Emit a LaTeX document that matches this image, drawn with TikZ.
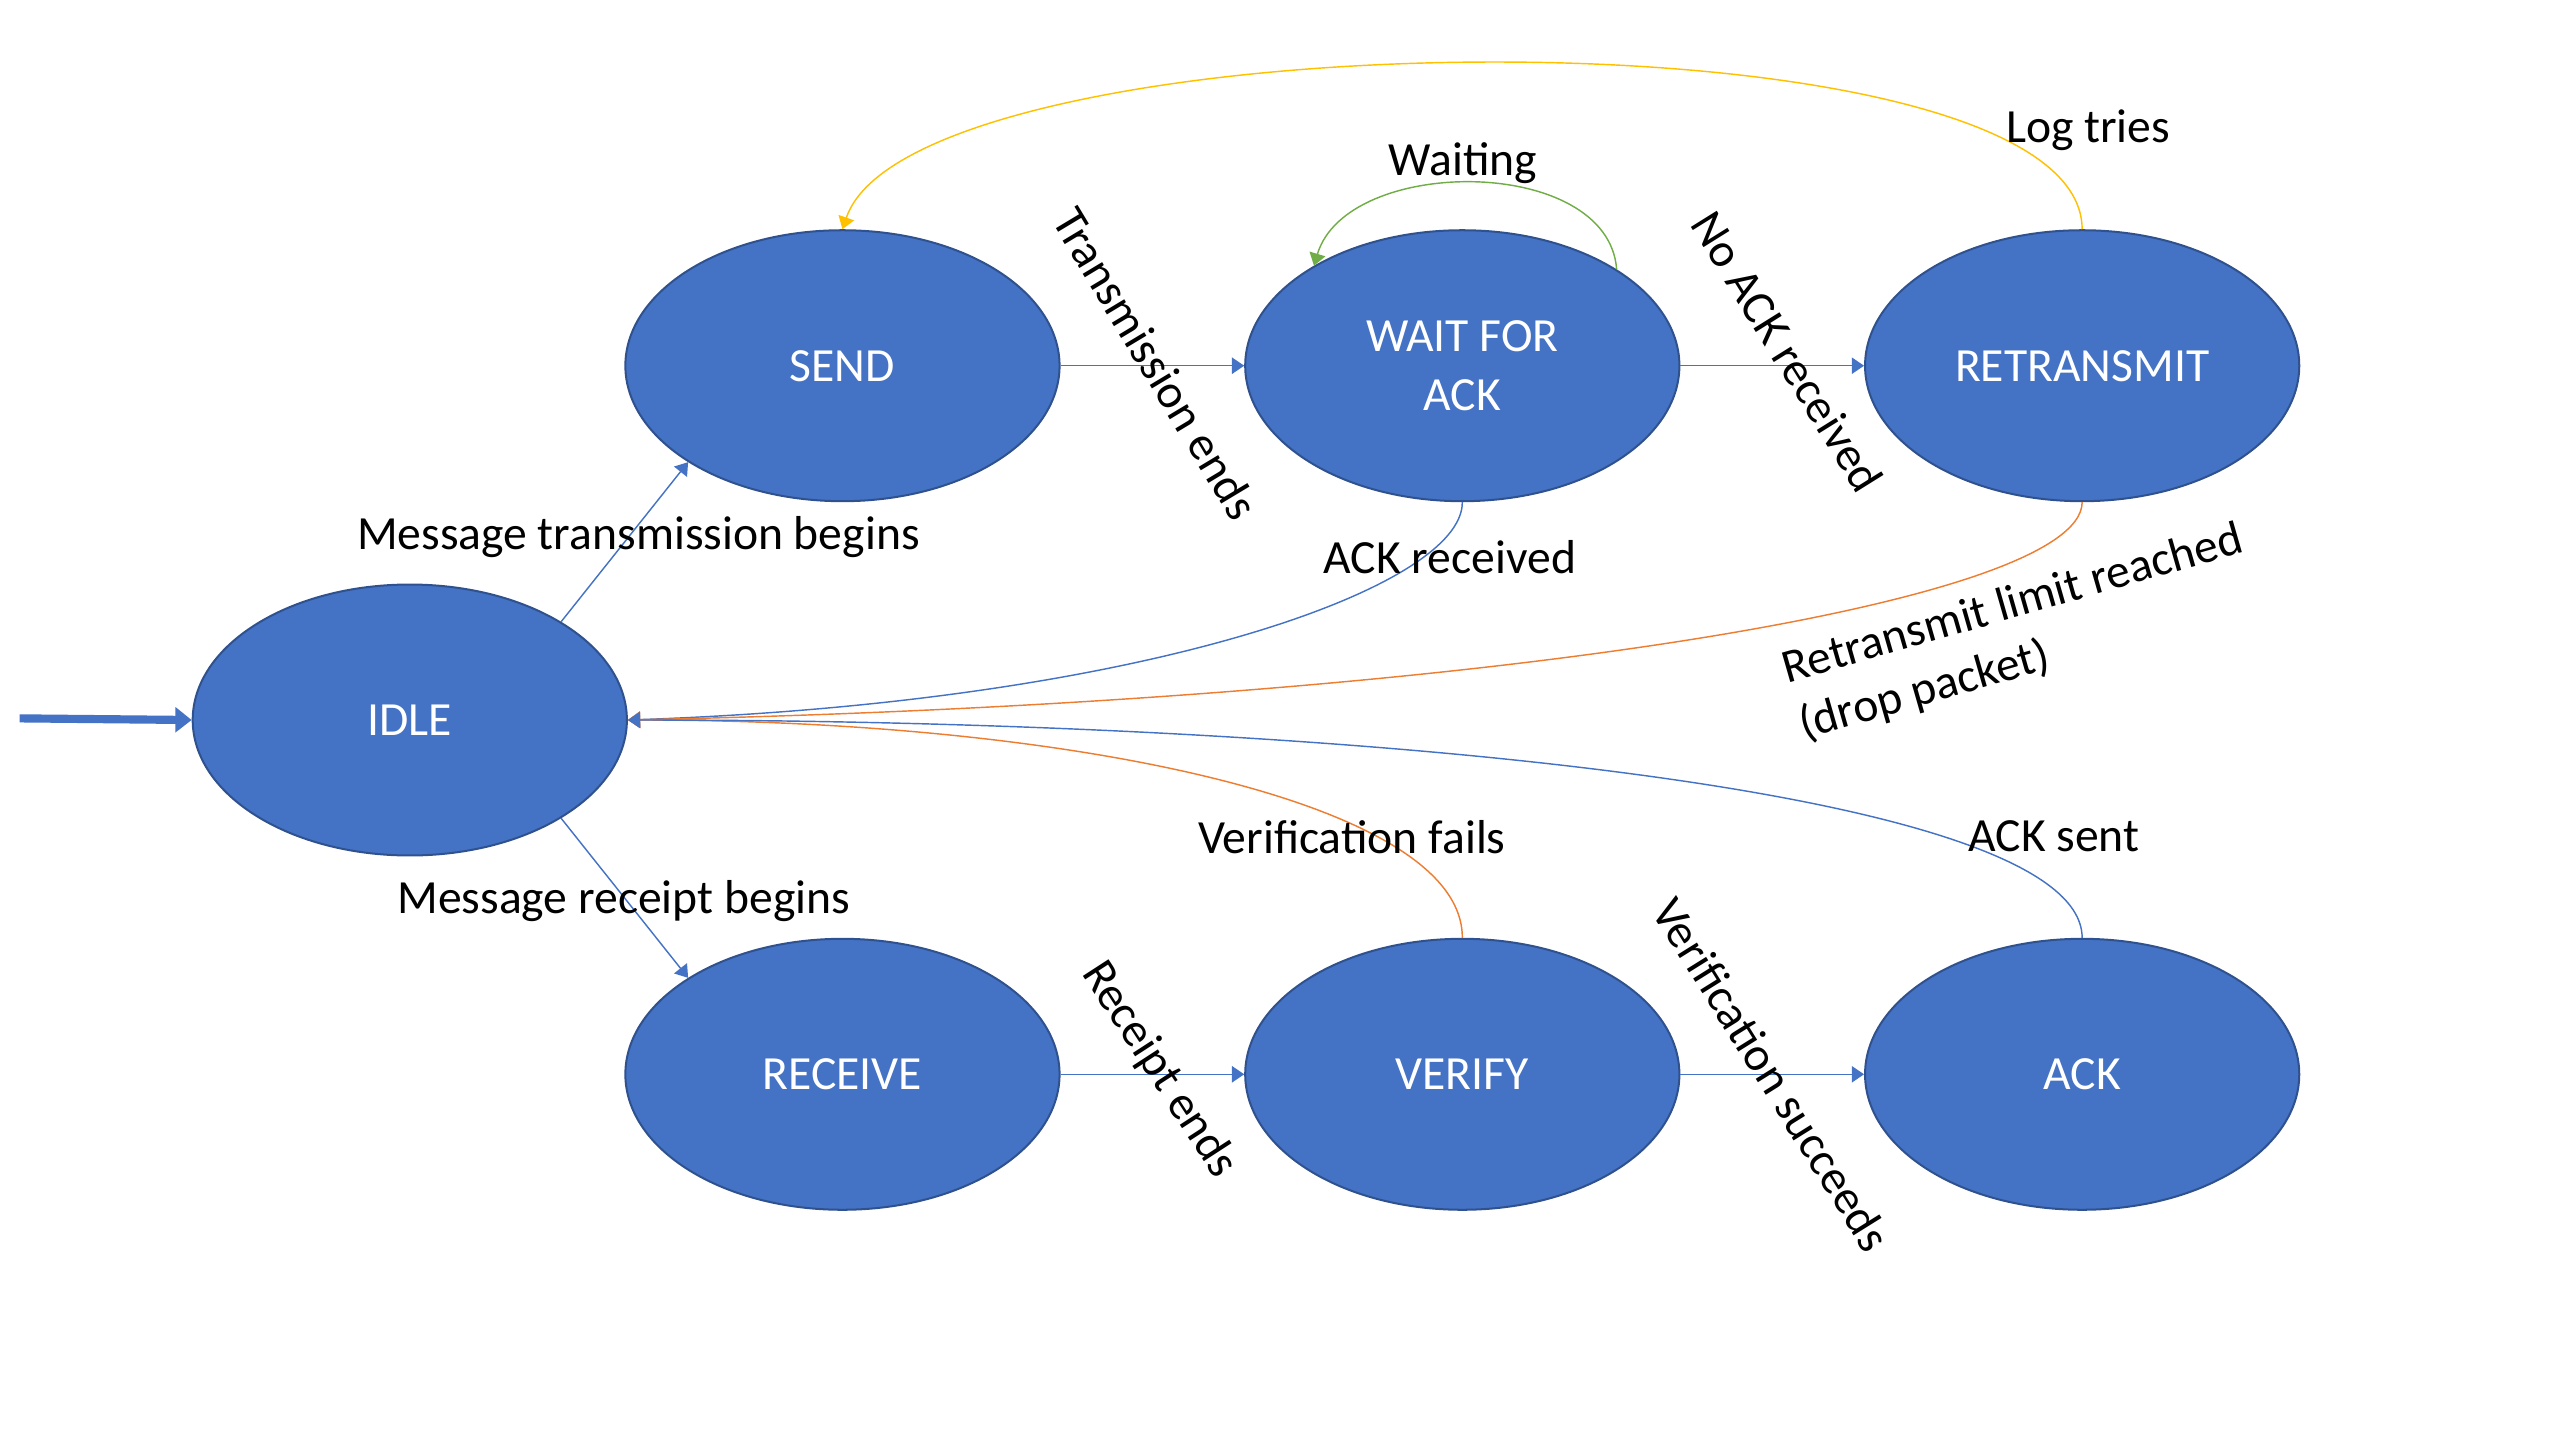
\documentclass[tikz,border=0pt]{standalone}
\usepackage{fontspec}
\setmainfont{Carlito}
\usetikzlibrary{shapes.geometric,arrows.meta,positioning}
\definecolor{stateblue}{HTML}{4472C4}
\definecolor{stateedge}{HTML}{2F528F}
\definecolor{lineorange}{HTML}{ED7D31}
\definecolor{lineyellow}{HTML}{FFC000}
\definecolor{linegreen}{HTML}{70AD47}

\begin{document}
\begin{tikzpicture}[x=0.02cm, y=-0.02cm, node distance=2.25cm,
	font=\fontsize{16.6}{20.5}\selectfont,
	state/.style={ellipse, draw=stateedge, line width=0.7pt, fill=stateblue, text=white, minimum width=5.32cm, minimum height=3.32cm, inner sep=0pt, align=center},
	trans/.style={-{Triangle[length=0.15cm,width=0.2cm]}, line width=0.5pt, stateblue},
	lbl/.style={inner sep=1pt, text=black}]
	\useasboundingbox (0,0) rectangle (1568,882);
	
	% states
	\node[state] (idle) at (251,441) {IDLE};
	\node[state] (send) at (516,224) {SEND};
	\node[state, right=of send] (wait) {WAIT FOR\\ACK};
	\node[state, right=of wait] (retrans) {RETRANSMIT};
	\node[state] (receive) at (516,658) {RECEIVE};
	\node[state, right=of receive] (verify) {VERIFY};
	\node[state, right=of verify] (ack) {ACK};
	
	% entry
	\coordinate (start) at (12,440);
	\draw[stateblue, line width=0.1cm, -{Triangle[length=0.2cm,width=0.3cm]}] (start) -- (idle.west);
	
	% sending side
	\draw[trans] (idle.33) -- (send.212);
	\draw[trans] (send) -- node[lbl, midway, rotate=-59, yshift=0.05cm] {Transmission ends} (wait);
	\draw[trans] (wait) -- node[lbl, midway, rotate=-58, xshift=-0.05cm, yshift=0.25cm] {No ACK received} (retrans);
	\draw[trans, linegreen] (wait.32) .. controls (985,95) and (825,95) .. (wait.146);
	\draw[trans, lineyellow] (retrans.north) .. controls (1275,0) and (560,10) .. (send.north);
	\draw[trans] (wait.south) .. controls (896,360) and (700,430) .. (idle.east);
	\draw[trans, lineorange] (retrans.south) .. controls (1275,370) and (900,430) .. (idle.east);
	
	% receiving side
	\draw[trans] (idle.-33) -- (receive.148);
	\draw[trans] (receive) -- node[lbl, midway, rotate=-57, yshift=0.1cm] {Receipt ends} (verify);
	\draw[trans] (verify) -- node[lbl, midway, rotate=-58] {Verification succeeds} (ack);
	\draw[trans, lineorange] (verify.north) .. controls (896,490) and (650,441) .. (idle.east);
	\draw[trans] (ack.north) .. controls (1275,480) and (800,441) .. (idle.east);
	
	% labels
	\node[lbl] (txbegin) at (391,329) {Message transmission begins};
	\node[lbl] (rxbegin) at (382,552) {Message receipt begins};
	\node[lbl] (waiting) at (896,100) {Waiting};
	\node[lbl] (logtries) at (1279,80) {Log tries};
	\node[lbl] (ackrecv) at (888,341) {ACK received};
	\node[lbl, rotate=16, align=left] (droppkt) at (1238,388) {Retransmit limit reached\\(drop packet)};
	\node[lbl] (verfail) at (828,513) {Verification fails};
	\node[lbl] (acksent) at (1258,512) {ACK sent};
\end{tikzpicture}
\end{document}
